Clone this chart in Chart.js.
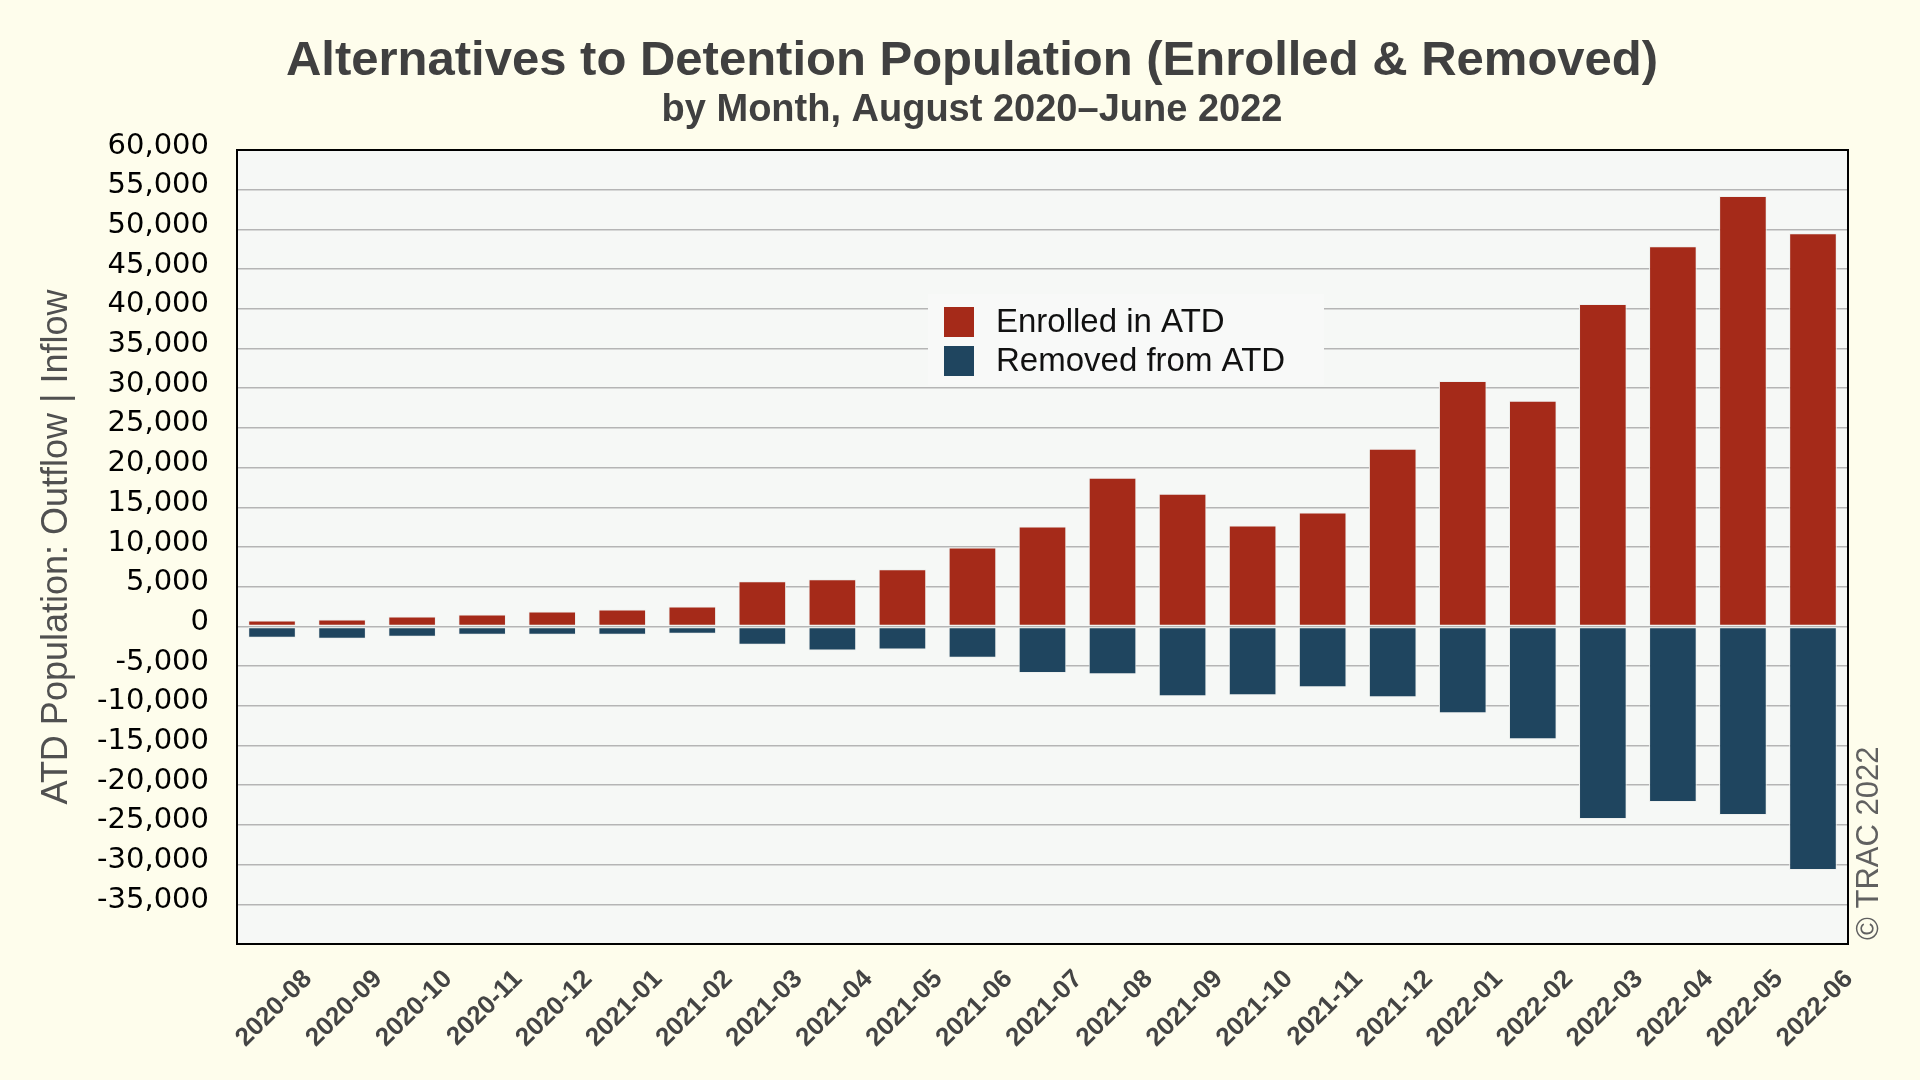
<!DOCTYPE html>
<html>
<head>
<meta charset="utf-8">
<script src="https://cdn.jsdelivr.net/npm/chart.js@4.4.0/dist/chart.umd.min.js"></script>
<style>
  html, body { margin: 0; padding: 0; background: #FEFDEC; }
  canvas { display: block; }
</style>
</head>
<body>
<canvas id="c" width="1920" height="1080"></canvas>
<script>
// ---- data ----
const categories = ['2020-08','2020-09','2020-10','2020-11','2020-12','2021-01','2021-02','2021-03','2021-04','2021-05','2021-06','2021-07','2021-08','2021-09','2021-10','2021-11','2021-12','2022-01','2022-02','2022-03','2022-04','2022-05','2022-06'];
const enrolled = [750, 875, 1250, 1500, 1875, 2125, 2500, 5700, 5950, 7200, 9950, 12570, 18730, 16720, 12700, 14330, 22370, 30920, 28410, 40600, 47890, 54200, 49530];
const removed = [-1420, -1540, -1290, -1040, -1040, -1040, -920, -2300, -3040, -2920, -3950, -5870, -6030, -8800, -8670, -7670, -8920, -10940, -14200, -24260, -22120, -23760, -30670];
const seriesNames = ['Enrolled in ATD', 'Removed from ATD'];
const yMin = -40000, yMax = 60000, yStep = 5000;
const titleText = 'Alternatives to Detention Population (Enrolled & Removed)';
const subtitleText = 'by Month, August 2020\u2013June 2022';
const yAxisTitle = 'ATD Population: Outflow | Inflow';
const creditText = '\u00A9 TRAC 2022';

const FONT = "'Liberation Sans', Arial, Helvetica, sans-serif";
const TICKFONT = "'DejaVu Sans', Verdana, sans-serif";

const backgroundPlugin = {
  id: 'bg',
  beforeDraw(chart) {
    const {ctx, chartArea: a} = chart;
    ctx.save();
    ctx.fillStyle = '#FEFDEC';
    ctx.fillRect(0, 0, chart.width, chart.height);
    ctx.fillStyle = '#F6F8F6';
    ctx.fillRect(a.left, a.top, a.right - a.left, a.bottom - a.top);
    ctx.restore();
  }
};

const legendPlugin = {
  id: 'insideLegend',
  afterDatasetsDraw(chart) {
    const {ctx} = chart;
    ctx.save();
    ctx.fillStyle = '#F8F9F8';
    ctx.fillRect(928, 294, 396, 91);
    chart.data.datasets.forEach((ds, i) => {
      const y = 307 + i * 39;
      ctx.fillStyle = ds.backgroundColor;
      ctx.fillRect(944, y, 30, 30);
      ctx.fillStyle = '#111';
      ctx.font = '33px ' + FONT;
      ctx.textBaseline = 'middle';
      ctx.textAlign = 'left';
      ctx.fillText(ds.label, 996, y + 16);
    });
    ctx.restore();
  }
};

const framePlugin = {
  id: 'frameAndText',
  afterDraw(chart) {
    const {ctx, chartArea: a} = chart;
    ctx.save();
    ctx.strokeStyle = '#000';
    ctx.lineWidth = 2;
    ctx.strokeRect(a.left, a.top, a.right - a.left, a.bottom - a.top);
    // titles
    ctx.fillStyle = '#404040';
    ctx.textAlign = 'center';
    ctx.textBaseline = 'alphabetic';
    ctx.font = 'bold 49px ' + FONT;
    ctx.fillText(titleText, 972, 75);
    ctx.font = 'bold 38px ' + FONT;
    ctx.fillText(subtitleText, 972, 121);
    // credit
    ctx.translate(1869, 940);
    ctx.rotate(-Math.PI / 2);
    ctx.font = '31px ' + FONT;
    ctx.fillStyle = '#606060';
    ctx.textAlign = 'left';
    ctx.textBaseline = 'middle';
    ctx.fillText(creditText, 0, 0);
    ctx.restore();
  }
};

new Chart(document.getElementById('c'), {
  type: 'bar',
  data: {
    labels: categories,
    datasets: [
      { label: seriesNames[0], data: enrolled, backgroundColor: '#A52A19', borderColor: '#EEF0EE', borderWidth: 1, borderSkipped: false },
      { label: seriesNames[1], data: removed, backgroundColor: '#1F455F', borderColor: '#EEF0EE', borderWidth: 1, borderSkipped: false }
    ]
  },
  options: {
    responsive: false,
    animation: false,
    devicePixelRatio: 1,
    layout: { padding: { top: 150, right: 72, bottom: 0, left: 0 } },
    datasets: { bar: { categoryPercentage: 0.68, barPercentage: 1.0 } },
    plugins: {
      legend: { display: false },
      title: { display: false },
      tooltip: { enabled: false }
    },
    scales: {
      x: {
        stacked: true,
        grid: { display: false, drawTicks: false },
        border: { display: false },
        ticks: {
          autoSkip: false,
          maxRotation: 45,
          minRotation: 45,
          padding: 20,
          labelOffset: 36,
          color: '#444',
          font: { family: FONT, size: 26, weight: 'bold' }
        },
        afterFit(scale) { scale.height = 136; }
      },
      y: {
        stacked: true,
        min: yMin,
        max: yMax,
        grid: { color: '#B5B5B5', lineWidth: 1.5, drawTicks: false },
        border: { display: false },
        ticks: {
          stepSize: yStep,
          padding: 28,
          labelOffset: -4,
          color: '#000',
          font: { family: TICKFONT, size: 29 },
          callback(v) { return v === yMin ? '' : Number(v).toLocaleString('en-US'); }
        },
        title: {
          display: true,
          text: yAxisTitle,
          color: '#505050',
          font: { family: FONT, size: 36 },
          padding: { top: 35, bottom: 0 }
        },
        afterFit(scale) { scale.width = 237; }
      }
    }
  },
  plugins: [backgroundPlugin, legendPlugin, framePlugin]
});
</script>
</body>
</html>
